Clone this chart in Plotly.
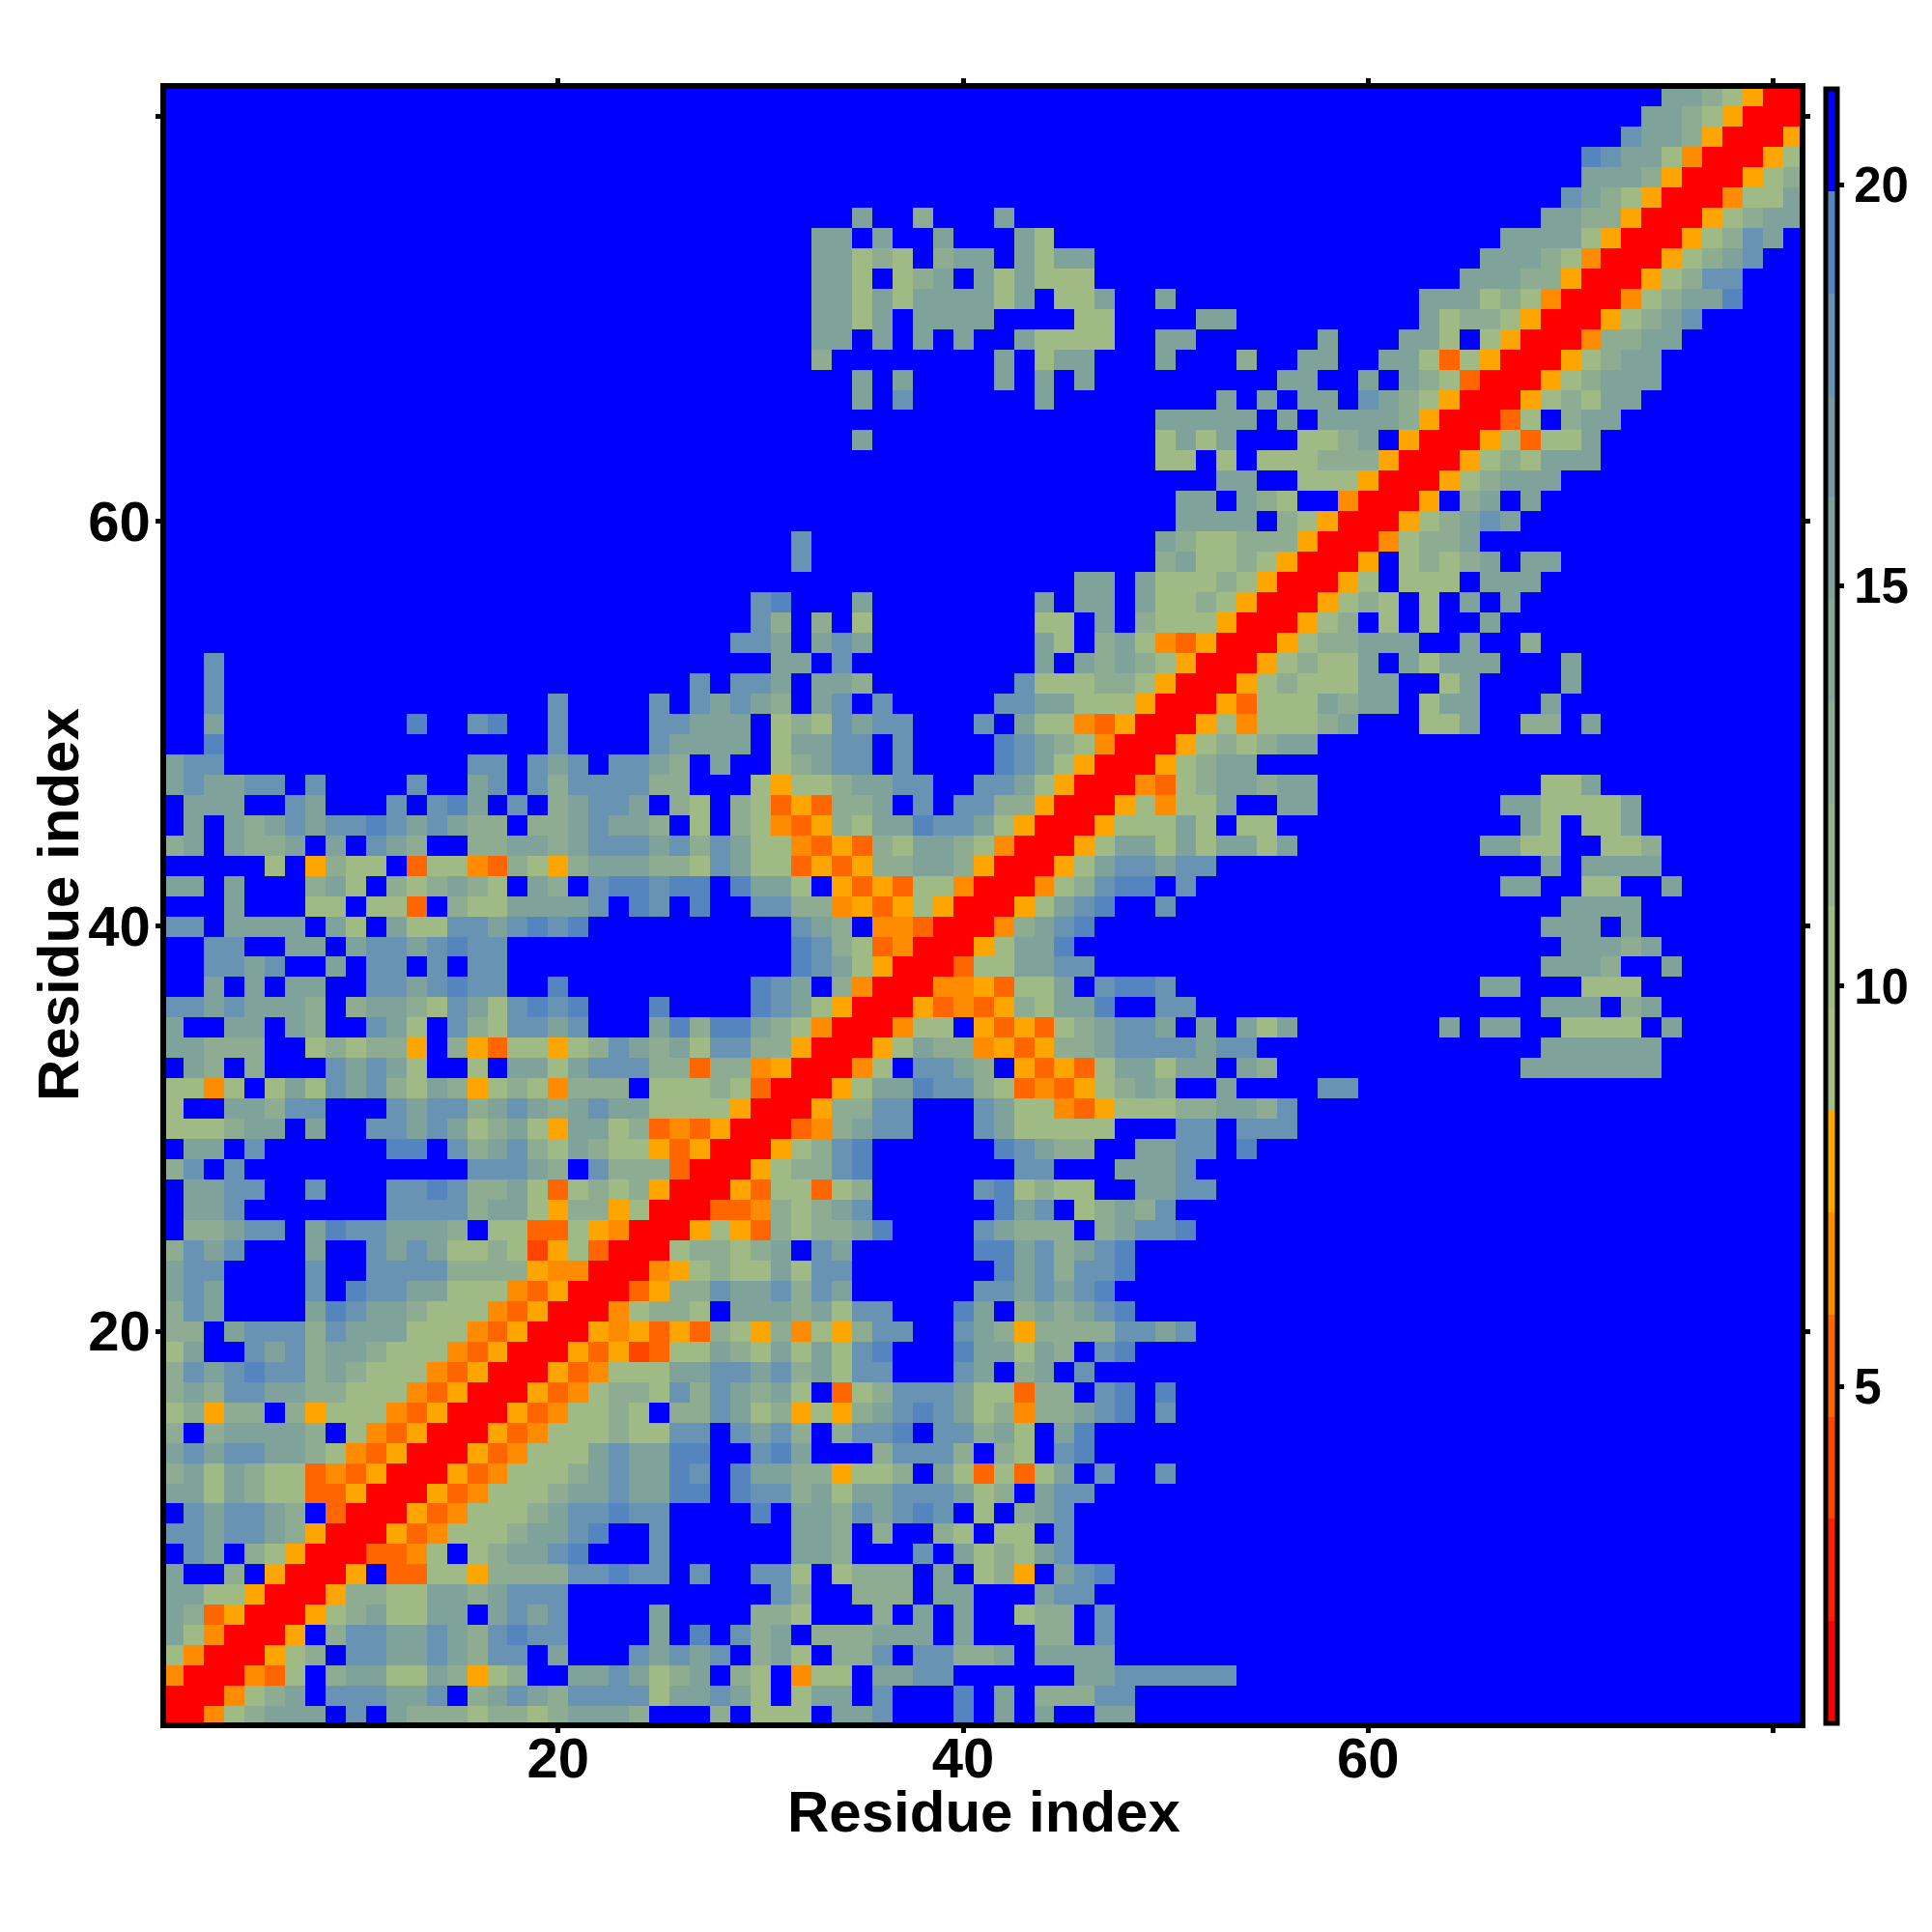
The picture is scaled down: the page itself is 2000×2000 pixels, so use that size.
import plotly.graph_objects as go

# Residue-residue map: row index -> "first_column:cell_codes" runs; every other cell is beyond the top band.
RUNS_TOP = {
81: "75:gghsyrr",
80: "74:gghsyrrr",
79: "73:cgghyrrry",
78: "71:bcggsorrrys",
77: "71:ggghyrrrysh",
76: "70:cghsyrrrossg",
75: "35:g 38:h 42:g 69:gghhyrrryshgg",
74: "33:gg 36:g 39:g 43:gs 67:ggggsyrrryshcg",
73: "33:ggshs.hgg.gsgg 66:ggghsorrryshgc",
72: "33:ggs.shg.gsgsss 65:ggghhyrrryshcc",
71: "33:ggsgsggggsg.ssg 50:g 63:gggshsorrroshggb",
70: "33:ggsg.gggg 46:ss 52:gg 63:gshhsyrrryshgc",
69: "33:gg.g.g.g 43:gssss 50:gg 58:g 62:ggs.syrrrohhgg",
68: "33:h 42:g 44:sgg 50:g 54:h 57:gg 61:ggsdsyrrryshgg",
67: "35:g 37:g 42:g 44:g 46:g 56:gg 60:g 62:ghsdrrryshggg",
66: "35:g 37:c 44:g 53:g 55:g 57:gg 60:cghsyrrryshsgg",
65: "50:ggggg 56:g 58:gggghyrrrds.hgg",
64: "35:g 50:sgsg 57:sshg.yrrrysdssg",
63: "50:ss 53:s 55:ssshhhyrrryshsggg",
62: "53:gg 57:sssyrrryshggg",
61: "51:gg.ghs 59:orrry.hg.g",
60: "51:gggg 56:hsyrrryshgcg",
59: "32:c 50:ghss 54:hhhyrrroshhg",
58: "32:c 50:hgss 54:hsyrrry.shshg.gg",
57: "46:gg 49:gsssh 54:syrrrys.sss.ggg",
56: "30:cb 35:g 44:g 46:gg 49:gsshs 54:yrrryshs.s.g.g",
55: "30:ch 33:h 35:s 44:ss 47:g 49:hsssy 54:rrrysh.s.s..g",
}
RUNS_MIDDLE = {
54: "29:ccg.gcg 44:gs.hgsodyrr 55:ryshhggg 65:g 68:h",
53: "3:c 31:gg.c 44:g.ghghsyrrr 55:yshssg.gsggg 70:g",
52: "3:c 27:c.ccg.ggh 43:cssshhsyrrry 55:shsssgg..sg 70:g",
51: "3:c 20:c 25:c 27:cgcgh.gc.c 42:ccggsssyrrryd 55:sssghgg.sgg 69:g",
50: "3:g 13:b 16:cb 20:c 25:ccg 28:gg.shscgcc 41:c.gssodyrrryso 55:ssshg...ssg 68:hh.g",
49: "3:b 20:c 25:cgg 28:gg.sggcc.c 42:bcghsorrryshs 55:hgg",
48: "1:gcc 16:cc 19:cgc 23:ccgh 28:g..shgcc.c 42:bcgsyrrryshgg",
47: "1:gcggcc.c 13:c 16:gc 19:chcccchh 30:sysshggcc 41:ccgsyrrrodshgg 55:hgg 69:ssg",
46: "2:ggg 7:cg 12:c 14:cbg 18:c 20:hgccg.hs 29:hsdydhhg.c.cchhyrrrysossg 56:gg 67:ggssssg",
45: "2:g 4:ghgcgccbcgcghh.hhgcggh.s 29:hsodyhsggbccgsyrrrysssgs.s 55:s 68:gs.ssg",
44: "1:hg.ghhg.g.cgh 16:hhgghgcccgch 28:cgssodydhsgghsorrrysggsgsgg 55:sg 66:ggss 72:ssh",
43: "6:s 8:yhss.dssodhsyhggghhs 28:cgssdydyhhgghyrrrysgccgcc 69:g 71:gggg",
42: "1:gg.g 8:hgs.hshghs.gh.cbbcbb 29:bggs.ydydssorrroshcbb.c 67:gg 71:ss 75:g",
41: "4:g 8:ss.ssd.hssggggc.bc.b 30:cchhoydysyrrrysgcb 50:c 70:gggg",
40: "1:cc.gggg.gs.gssccgcbcb 32:cgh.oodrrrohgcb 69:ggg.g",
39: "3:cc 7:gg.gccgcbcc 32:bchsdorrrysggb 70:ggghg",
38: "3:ccgc 9:g.cc.c.cc 32:bcgsyrrrdssggcc 69:gggh 75:g",
37: "3:g.g.gg 11:ccgcbcc 20:b 30:bcg.horrrooydssg.cbbc 66:gg 71:sss",
36: "1:ccgcgggh.hgghscgscbcb 25:b 30:bcgsyrrrydodyhsggb 50:cc 69:ggg.hg",
35: "1:g 4:gg.gh 11:cgs 15:chsccgc 25:gbh 28:bbghsorrross.ydydshgccg.g.g 55:sg 64:g 66:gg 70:ssss.g",
34: "1:gghhh 8:shshhy.hydssyshcghgs 28:cchhyrrrysghhoydyhhgccccgcc 69:gggggg",
33: "2:gh.h 9:cgcgs..s.ggsgccchhd 28:hhoyrrros.ccgh.ydydsggsgg.g 55:h 68:ggggggg",
32: "1:ssos.sgscgchsghyshsohhh.sss 28:hsdrrrysggbcchsdodyshgh 53:g 58:cc",
31: "1:s 4:gghcc 12:cgcchgcghgcggsss 28:syrrryhhcc...cgssodyssshhgg 55:hc",
30: "1:ssshgg.g 11:ccgcgshgsyggshdod 28:yrrrdohgcc...cgsssss...cc.c 55:cc",
29: "2:gg.c 12:bb.chgchsghssydy 28:rrryshcb 42:bcghh..ggcc.b",
28: "1:hc.c 16:cccgh.chhhdr 28:rryshhcb 43:cc 48:gggc",
}
RUNS_BOTTOM = {
27: "1:.ggcc..c...ccbchhgsdshshyrr 28:rydssdsh.....cbshss..ggcc",
26: "1:.ggc.......cccchggsyhhysrrr 28:ddohshgc......bgc.shghc",
25: "1:.hhgcc.gbccgggh.ssddsyorrry 28:sydhshhgb....cghhh.hgccb",
24: "1:hcgc...g..cgcgsshsfysdrrrsh 28:hshg.cg......bbgchgcb",
23: "1:gcc....c..cccchhhhyoorrroys 28:hssgscc.......bgchccb",
22: "1:gcg....c.bccggsssodyrrrdyhh 28:cggchcg......ccgcgcb",
21: "1:hcg....gbcgghsssodyrrroshhs 28:.ggghgscc...bg.hghgcb",
20: "1:hh.gccchcgggsssodyrrryoydyd 28:hsyhosyhcc..cghyhhhhccgc",
19: "1:sg..cgchgghsssodyrrrydyfdss 28:ghsgsgscb...bggsgh.cb",
18: "1:hcgcbcchghsssodyrrrydosssgg 28:ccgchgscc...cg.hg.c",
17: "1:hghccgghhsssodyrrrydoshhsch 28:cghgs.dshcccgssdhh.cb.b",
16: "1:shyhh.hysssodyrrrydosshs.hh 28:cgshysyhgcbcgshohhgcb.c",
15: "1:h.hggggh.sodyrrrydossshsscc 28:.cgch.hccb.cchgs.gb",
14: "1:gcgccgghsodyrrrydosssgcggbb 28:..cbg...hccch.hs.cb",
13: "1:hgsghssdodyrrrydossshgcggbc 28:.bgghhyssh.gsdsdsg.c..c",
12: "1:ggsghssddyrrrydossshggcggbb 28:.bcchgsggcccgsh.gcc",
11: "1:.cgccgh.drrrydossshgccbcc.. 28:..b.gghcgcbc.s.hgc",
10: "1:ccgccghyrrrydossshggcb..c.. 28:....ggh.h..hs.ss.c",
9: "1:.cg.hsyrrrddos.shggcb...c.. 28:....ggh...c.gshsgc",
8: "1:g..h.yrrry.ddssyhhhhccbcc.c 28:..ccs.shhh.g.shy.gcb",
7: "1:ggssyrrryhhssgghgccc....... 28:...ch..hhh.gg...gcc",
6: "1:ghdyrrryshgssgg.gcgc....g.. 28:..hhs...h.g.g..shh.c",
5: "1:gsorrry.hccggcghcbcc....g.b 28:.chg.hhhggg.g...hh.c",
4: "1:sorrrysh.ccggcghcc.g...cgcg 28:c.hgs.hhc.cchhg.gggg",
3: "1:orrrods.hggssghysh..ggcgshg 28:.hs.oss.ggcc......ggcccccc",
2: "1:rrroshg.cccggc.hgcghccccsgg 28:cgs.sgg.c...b.g.hhhcc",
1: "1:rroshggg.c.ghhhshhshgggh... 28:h.sss.ggc...b.g.g..gg",
}

# Distance read for each cell code, taken at the middle of its colour band.
CODE_VALUES = {".": 20.56, "b": 19.29, "c": 18.01, "g": 15.46, "h": 12.91, "s": 10.36,
               "y": 7.81, "o": 6.54, "d": 5.26, "f": 3.98, "r": 1.44}

RESIDUES = list(range(1, 82))
Z_MIN, Z_MAX = 0.8, 21.2
BAND_COLOURS = ["#ff0000", "#ff2000", "#ff4500", "#ff6600", "#ff8c00", "#ffa500",
                "#a5be80", "#a0ba85", "#96b28c", "#8eac92", "#85a796", "#7fa39b",
                "#7499a5", "#6993b2", "#5585be", "#0000ff"]
TICKS = [20, 40, 60, 80]
TICK_TEXT = ["20", "40", "60", ""]
BAR_TICKS = [5, 10, 15, 20]
AXIS_TITLE = "Residue index"

matrix = [[CODE_VALUES["."]] * 81 for _ in range(81)]
for table in (RUNS_TOP, RUNS_MIDDLE, RUNS_BOTTOM):
    for row, runs in table.items():
        for run in runs.split():
            start, codes = run.split(":")
            for k, code in enumerate(codes):
                col = int(start) + k
                if col <= 81:
                    matrix[row - 1][col - 1] = CODE_VALUES[code]

n = len(BAND_COLOURS)
colorscale = []
for i, colour in enumerate(BAND_COLOURS):
    colorscale += [[i / n, colour], [(i + 1) / n, colour]]

W = 2000
left, right, top, bottom = 172.0, 1863.4, 91.8, 1783.4
frame = 5.5

fig = go.Figure(go.Heatmap(
    z=matrix, x=RESIDUES, y=RESIDUES, zmin=Z_MIN, zmax=Z_MAX, colorscale=colorscale,
    colorbar=dict(
        thickness=12, thicknessmode="pixels", len=bottom - top, lenmode="pixels",
        x=1889.5 / W, xanchor="left", xpad=0,
        y=1 - top / W, yanchor="top", ypad=0,
        outlinecolor="black", outlinewidth=5, borderwidth=0,
        tickmode="array", tickvals=BAR_TICKS, ticks="outside", ticklen=5, tickwidth=5,
        tickcolor="black",
        tickfont=dict(family="Liberation Sans", size=51, color="black", weight="bold"),
    ),
))

axis = dict(
    tickmode="array", tickvals=TICKS, ticktext=TICK_TEXT, ticks="outside", ticklen=5, tickwidth=5,
    tickcolor="black", showline=True, linecolor="black", linewidth=frame, mirror="allticks",
    showgrid=False, zeroline=False,
    tickfont=dict(family="Liberation Sans", size=58, color="black", weight="bold"),
)
title_font = dict(family="Liberation Sans", size=60, color="black", weight="bold")
fig.update_layout(
    width=W, height=W, autosize=False, margin=dict(l=0, r=0, t=0, b=0),
    paper_bgcolor="white", plot_bgcolor="white",
    xaxis=dict(axis, domain=[left / W, right / W], range=[0.638, 81.33], ticklabelstandoff=-24),
    yaxis=dict(axis, domain=[1 - bottom / W, 1 - top / W], range=[0.66, 81.37], ticklabelstandoff=-6),
    annotations=[
        dict(text=AXIS_TITLE, xref="paper", yref="paper", x=1018 / W, y=1 - 1875 / W,
             xanchor="center", yanchor="middle", showarrow=False, font=title_font),
        dict(text=AXIS_TITLE, xref="paper", yref="paper", x=60 / W, y=1 - 937 / W, textangle=-90,
             xanchor="center", yanchor="middle", showarrow=False, font=title_font),
    ],
)
fig.write_html("out.html", config={"displayModeBar": False},
               post_script="document.body.style.margin='0';")
